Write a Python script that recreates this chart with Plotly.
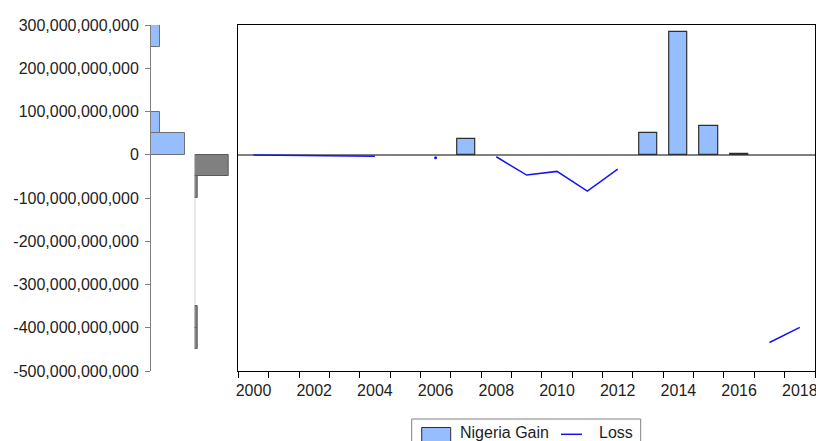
import numpy as np
import plotly.graph_objects as go

# Annual observations, values in billions
years = list(range(2000, 2019))
gain_bn = [None, None, None, None, None, 0.0, None, 35.5, None, None,
           None, None, None, 49.5, 283.0, 67.0, 1.5, None, None]
loss_bn = [-0.8, -1.0, -1.3, -1.8, -3.2, None, -7.0, None, -4.6, -47.0,
           -38.5, -84.0, -33.0, None, None, None, None, -434.0, -399.0]
series_names = ["Nigeria Gain", "Loss"]

# Axis ticks
y_tick_bn = [300, 200, 100, 0, -100, -200, -300, -400, -500]
x_label_years = list(range(2000, 2019, 2))
bin_bn = 50

SCALE = 1e9
W, H = 816, 441

BLUE_FILL = "#96BEFF"
BAR_EDGE = "#2e2e2e"
LINE_BLUE = "#1414F0"
GREY = "#808080"
TEXT = "#1e1e1e"
FONT = "Liberation Sans, Arial, sans-serif"


def fx(p):
    return p / W


def fy(p):
    return 1 - p / H


gain = [None if v is None else v * SCALE for v in gain_bn]
loss = [None if v is None else v * SCALE for v in loss_bn]
centers = [y + 0.5 for y in years]

gain_obs = np.array([v for v in gain if v is not None])
loss_obs = np.array([v for v in loss if v is not None])

# histogram bin edges aligned on zero
g_end = np.ceil(gain_obs.max() / (bin_bn * SCALE)) * bin_bn * SCALE
l_start = np.floor(loss_obs.min() / (bin_bn * SCALE)) * bin_bn * SCALE
g_counts, _ = np.histogram(gain_obs, bins=np.arange(0, g_end + 1, bin_bn * SCALE))
l_counts, _ = np.histogram(loss_obs, bins=np.arange(l_start, 1, bin_bn * SCALE))

y_range = [y_tick_bn[-1] * SCALE, y_tick_bn[0] * SCALE]
y_vals = [v * SCALE for v in y_tick_bn]
y_text = [f"{int(v * SCALE):,}" for v in y_tick_bn]

# zero-height bars get no outline
bar_outline = [0 if (v is None or v == 0) else 1.2 for v in gain]

# isolated points of the loss series (no neighbour on either side)
iso_x, iso_y = [], []
for i, v in enumerate(loss):
    if v is None:
        continue
    prev_missing = i == 0 or loss[i - 1] is None
    next_missing = i == len(loss) - 1 or loss[i + 1] is None
    if prev_missing and next_missing:
        iso_x.append(centers[i])
        iso_y.append(v)

fig = go.Figure()

# marginal distribution of gains
fig.add_trace(go.Histogram(
    y=gain_obs, orientation="h",
    ybins=dict(start=0, end=g_end, size=bin_bn * SCALE),
    marker=dict(color=BLUE_FILL, line=dict(color="#6f6f6f", width=1)),
    xaxis="x2", yaxis="y2", showlegend=False, hoverinfo="skip",
))

# marginal distribution of losses
fig.add_trace(go.Histogram(
    y=loss_obs, orientation="h",
    ybins=dict(start=l_start, end=0, size=bin_bn * SCALE),
    marker=dict(color="#808080", line=dict(color="#5a5a5a", width=1)),
    xaxis="x3", yaxis="y3", showlegend=False, hoverinfo="skip",
))

fig.add_trace(go.Bar(
    x=centers, y=gain, width=0.6, name=series_names[0], showlegend=False,
    marker=dict(color=BLUE_FILL, line=dict(color=BAR_EDGE, width=bar_outline)),
))

fig.add_trace(go.Scatter(
    x=centers, y=loss, mode="lines", name=series_names[1], showlegend=False,
    line=dict(color=LINE_BLUE, width=1.5),
    connectgaps=False,
))

fig.add_trace(go.Scatter(
    x=iso_x, y=iso_y, mode="markers", showlegend=False,
    marker=dict(color=LINE_BLUE, size=3),
))

# baseline of the loss histogram over its bin span
fig.add_shape(type="line", xref="x3", yref="y3",
              x0=0, x1=0, y0=l_start, y1=0,
              line=dict(color="#a0a0a0", width=1))

# legend box drawn below the chart (runs past the bottom edge)
fig.add_shape(type="rect", xref="paper", yref="paper",
              x0=fx(411.7), x1=fx(640.7), y0=fy(450), y1=fy(419),
              line=dict(color=GREY, width=1), fillcolor="white")
fig.add_shape(type="rect", xref="paper", yref="paper",
              x0=fx(421.7), x1=fx(450.7), y0=fy(442), y1=fy(427.5),
              line=dict(color=BAR_EDGE, width=1), fillcolor=BLUE_FILL)
fig.add_shape(type="line", xref="paper", yref="paper",
              x0=fx(561), x1=fx(582), y0=fy(434.3), y1=fy(434.3),
              line=dict(color=LINE_BLUE, width=1.5))
fig.add_annotation(text=series_names[0], xref="paper", yref="paper",
                   x=fx(458), y=fy(432.5), xanchor="left", yanchor="middle",
                   showarrow=False, font=dict(size=16, color=TEXT))
fig.add_annotation(text=series_names[1], xref="paper", yref="paper",
                   x=fx(597), y=fy(432.5), xanchor="left", yanchor="middle",
                   showarrow=False, font=dict(size=16, color=TEXT))

hist_frac = 34.3 / 43.7

fig.update_layout(
    width=W, height=H, autosize=False,
    margin=dict(l=0, r=0, t=0, b=0, autoexpand=False),
    paper_bgcolor="white", plot_bgcolor="white",
    font=dict(family=FONT, size=16, color=TEXT),
    bargap=0,
    showlegend=False,
    xaxis=dict(
        domain=[fx(238.3), fx(815)], range=[2000, 2019],
        showline=True, mirror=True, linecolor="#000000", linewidth=1,
        showgrid=False, zeroline=False,
        tickmode="array",
        tickvals=[y + 0.5 for y in x_label_years],
        ticktext=[str(y) for y in x_label_years],
        ticks="", ticklen=0, ticklabeloverflow="allow",
        ticklabelstandoff=5,
        minor=dict(tickmode="array", tickvals=years + [years[-1] + 1],
                   ticks="outside", ticklen=6, tickcolor="#000000",
                   tickwidth=1, showgrid=False),
        tickfont=dict(size=16, color=TEXT),
    ),
    yaxis=dict(
        domain=[fy(371), fy(25)], range=y_range,
        showline=True, mirror=True, linecolor="#000000", linewidth=1,
        showgrid=False, showticklabels=False, ticks="",
        zeroline=True, zerolinecolor=GREY, zerolinewidth=1.6,
    ),
    xaxis2=dict(
        domain=[fx(151), fx(194.7)],
        range=[0, g_counts.max() / hist_frac],
        visible=False,
    ),
    yaxis2=dict(
        domain=[fy(371), fy(25)], range=y_range, anchor="x2",
        showline=True, linecolor=GREY, linewidth=1,
        showgrid=False, zeroline=False,
        tickmode="array", tickvals=y_vals, ticktext=y_text,
        ticks="outside", ticklen=5, tickcolor=GREY, tickwidth=1,
        ticklabelstandoff=3,
        tickfont=dict(size=16, color=TEXT),
    ),
    xaxis3=dict(
        domain=[fx(194.7), fx(238.3)],
        range=[0, l_counts.max() / hist_frac],
        visible=False,
    ),
    yaxis3=dict(
        domain=[fy(371), fy(25)], range=y_range, anchor="x3",
        visible=False,
    ),
)

fig.write_html("out.html")
